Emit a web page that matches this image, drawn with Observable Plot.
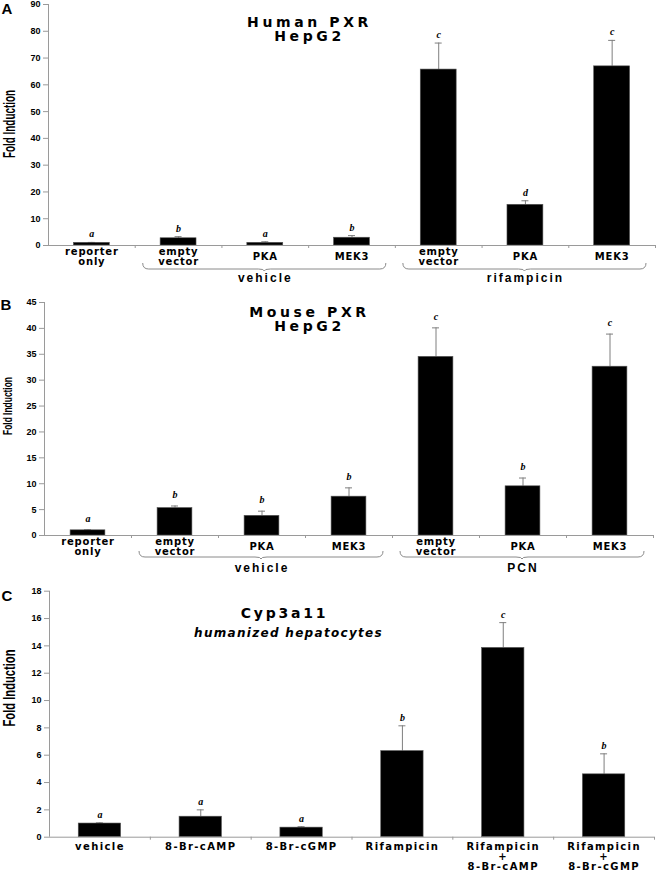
<!DOCTYPE html>
<html>
<head>
<meta charset="utf-8">
<script src="https://cdn.jsdelivr.net/npm/d3@7"></script>
<script src="https://cdn.jsdelivr.net/npm/@observablehq/plot@0.6"></script>
<style>
  html, body { margin: 0; padding: 0; background: #fff; }
  #chart { width: 656px; }
  #chart svg { display: block; }
</style>
</head>
<body>
<div id="chart"></div>
<script>
// ---------- Panel A: Human PXR, HepG2 ----------
const aLabels  = ["reporter\nonly", "empty\nvector", "PKA", "MEK3", "empty\nvector", "PKA", "MEK3"];
const aValues  = [1.0, 2.7, 1.0, 2.9, 65.7, 15.2, 66.9];
const aErrors  = [0.15, 0.6, 0.4, 0.8, 9.9, 1.5, 9.7];
const aLetters = ["a", "b", "a", "b", "c", "d", "c"];
const aTicks   = [0, 10, 20, 30, 40, 50, 60, 70, 80, 90];
const aGroupNames = ["vehicle", "rifampicin"];
const aGroupFirst = [1, 4];
const aGroupLast  = [3, 6];

// ---------- Panel B: Mouse PXR, HepG2 ----------
const bLabels  = ["reporter\nonly", "empty\nvector", "PKA", "MEK3", "empty\nvector", "PKA", "MEK3"];
const bValues  = [1.0, 5.3, 3.8, 7.5, 34.5, 9.5, 32.6];
const bErrors  = [0.1, 0.4, 0.9, 1.7, 5.6, 1.6, 6.3];
const bLetters = ["a", "b", "b", "b", "c", "b", "c"];
const bTicks   = [0, 5, 10, 15, 20, 25, 30, 35, 40, 45];
const bGroupNames = ["vehicle", "PCN"];
const bGroupFirst = [1, 4];
const bGroupLast  = [3, 6];

// ---------- Panel C: Cyp3a11, humanized hepatocytes ----------
const cLabels  = ["vehicle", "8-Br-cAMP", "8-Br-cGMP", "Rifampicin", "Rifampicin\n+\n8-Br-cAMP", "Rifampicin\n+\n8-Br-cGMP"];
const cValues  = [1.0, 1.5, 0.7, 6.3, 13.85, 4.6];
const cErrors  = [0.05, 0.5, 0.07, 1.85, 1.85, 1.5];
const cLetters = ["a", "a", "a", "b", "c", "b"];
const cTicks   = [0, 2, 4, 6, 8, 10, 12, 14, 16, 18];

const SANS = "'DejaVu Sans', Verdana, sans-serif";
const ARIAL = "'Liberation Sans', Arial, sans-serif";
const SERIF = "'Liberation Serif', 'Times New Roman', serif";
const AXIS_GRAY = "#9a9a9a";
const ERR_GRAY = "#7f7f7f";

function groupsOf(names, first, last) {
  return names.map((name, k) => ({name, first: first[k], last: last[k]}));
}

function braceMark(groups, top, depth) {
  return (index, scales, values, dimensions) => {
    const x = scales.x;
    const y0 = dimensions.height - dimensions.marginBottom + top;
    const y1 = y0 + depth;
    const g = d3.create("svg:g")
      .attr("fill", "none").attr("stroke", "#8a8a8a").attr("stroke-width", 1);
    for (const gr of groups) {
      const a = x(gr.first - 0.5) + 8, b = x(gr.last + 0.5) - 9, m = (a + b) / 2, r = 6;
      g.append("path").attr("d",
        `M${a},${y0} Q${a},${y1} ${a + r},${y1} L${m - r},${y1} Q${m},${y1} ${m},${y1 + 2} ` +
        `Q${m},${y1} ${m + r},${y1} L${b - r},${y1} Q${b},${y1} ${b},${y0}`);
    }
    return g.node();
  };
}

function yLabelMark(text, x, y, size, len, weight) {
  return () => d3.create("svg:text")
    .attr("transform", `translate(${x},${y}) rotate(-90)`)
    .attr("text-anchor", "middle")
    .attr("font-family", ARIAL)
    .attr("font-size", size)
    .attr("font-weight", weight)
    .attr("fill", "black")
    .attr("textLength", len)
    .attr("lengthAdjust", "spacingAndGlyphs")
    .text(text).node();
}

function makePanel(cfg) {
  const n = cfg.labels.length;
  const rows = cfg.labels.map((label, i) => ({
    i, label, value: cfg.values[i], err: cfg.errors[i],
    top: cfg.values[i] + cfg.errors[i], letter: cfg.letters[i]
  }));
  const band = (656 - cfg.marginLeft - cfg.marginRight) / n;
  const capHalf = 3.5 / band;
  const half = cfg.barHalf;
  const boundaries = d3.range(n).map(i => i + 0.5);
  const groups = cfg.groups || [];
  const marks = [
    Plot.ruleX([-0.5], {x: d => d, stroke: AXIS_GRAY}),
    Plot.axisY({ticks: cfg.ticks, tickSize: 5, tickPadding: 3, stroke: AXIS_GRAY, fill: "black",
      fontSize: 9, fontWeight: "bold", fontFamily: ARIAL, label: null}),
    Plot.axisX({ticks: boundaries, tickSize: 3, tickFormat: () => "", stroke: AXIS_GRAY, label: null}),
    Plot.ruleX(rows, {x: "i", y1: "value", y2: "top", stroke: ERR_GRAY, strokeWidth: 1}),
    Plot.ruleY(rows, {y: "top", x1: d => d.i - capHalf, x2: d => d.i + capHalf, stroke: ERR_GRAY, strokeWidth: 1}),
    Plot.rectY(rows, {x1: d => d.i - half, x2: d => d.i + half, y: "value", fill: "black", stroke: "#555", strokeWidth: 0.6}),
    Plot.ruleY([0], {stroke: AXIS_GRAY}),
    Plot.text(rows, {x: "i", y: "top", text: "letter", lineAnchor: "bottom", dy: cfg.letterDy,
      fontFamily: SERIF, fontStyle: "italic", fontWeight: "bold", fontSize: 10}),
    Plot.text(rows, {x: "i", text: "label", frameAnchor: "bottom", dy: cfg.labelDy, lineAnchor: cfg.labelAnchor,
      lineHeight: cfg.labelLH, fontFamily: SANS, fontWeight: "bold", fontSize: cfg.labelSize, ariaDescription: "catlabel"}),
    Plot.text(groups, {x: d => (d.first + d.last) / 2, text: "name", frameAnchor: "bottom", dy: cfg.groupDy,
      lineAnchor: "middle", fontFamily: ARIAL, fontWeight: "bold", fontSize: 12, ariaDescription: "grouplabel"}),
    braceMark(groups, cfg.braceTop, cfg.braceDepth),
    Plot.text([cfg.title], {text: d => d, frameAnchor: "top-left", dx: cfg.titleX - cfg.marginLeft, dy: cfg.titleDy,
      textAnchor: "middle", lineAnchor: "bottom", lineHeight: 0.95, fontFamily: SANS, fontWeight: "bold",
      fontSize: 14, ariaDescription: "title"}),
    Plot.text([cfg.panel], {text: d => d, frameAnchor: "top-left", dx: cfg.panelDx, dy: cfg.panelDy,
      textAnchor: "start", lineAnchor: "bottom", fontFamily: ARIAL, fontWeight: "bold", fontSize: 15}),
    yLabelMark("Fold Induction", cfg.yLabX, cfg.yLabY, cfg.yLabSize, cfg.yLabLen, cfg.yLabWeight)
  ];
  if (cfg.subtitle) {
    marks.push(Plot.text([cfg.subtitle], {text: d => d, frameAnchor: "top-left", dx: cfg.subX - cfg.marginLeft,
      dy: cfg.subDy, textAnchor: "middle", lineAnchor: "bottom", fontFamily: SANS, fontWeight: "bold",
      fontStyle: "italic", fontSize: 12, ariaDescription: "subtitle"}));
  }
  const svg = Plot.plot({
    width: 656,
    height: cfg.height,
    marginTop: cfg.marginTop,
    marginBottom: cfg.marginBottom,
    marginLeft: cfg.marginLeft,
    marginRight: cfg.marginRight,
    x: {domain: [-0.5, n - 0.5], axis: null},
    y: {domain: [0, cfg.ticks[cfg.ticks.length - 1]], axis: null},
    style: {background: "white", overflow: "visible", color: "black"},
    marks
  });
  const s = d3.select(svg);
  s.selectAll('[aria-description="catlabel"]').attr("letter-spacing", cfg.labelLS + "px");
  s.selectAll('[aria-description="grouplabel"]').attr("letter-spacing", "2px");
  s.selectAll('[aria-description="title"]').attr("letter-spacing", cfg.titleLS + "px");
  s.selectAll('[aria-description="subtitle"]').attr("letter-spacing", "1.3px");
  return svg;
}

const chart = document.getElementById("chart");

chart.appendChild(makePanel({
  labels: aLabels, values: aValues, errors: aErrors, letters: aLetters, ticks: aTicks,
  groups: groupsOf(aGroupNames, aGroupFirst, aGroupLast),
  height: 290, marginTop: 4, marginBottom: 45, marginLeft: 48, marginRight: 1,
  barHalf: 0.207, letterDy: -5,
  labelDy: 11, labelAnchor: "middle", labelLH: 1.0, labelSize: 10, labelLS: 0.8,
  groupDy: 33, braceTop: 18, braceDepth: 6,
  title: "Human PXR\nHepG2", titleX: 309, titleDy: 36, titleLS: 3.6,
  panel: "A", panelDx: -47, panelDy: 9,
  yLabX: 15, yLabY: 124, yLabSize: 16, yLabLen: 68, yLabWeight: "bold"
}));

chart.appendChild(makePanel({
  labels: bLabels, values: bValues, errors: bErrors, letters: bLetters, ticks: bTicks,
  groups: groupsOf(bGroupNames, bGroupFirst, bGroupLast),
  height: 285, marginTop: 12, marginBottom: 40, marginLeft: 44, marginRight: 3,
  barHalf: 0.2, letterDy: -8,
  labelDy: 11, labelAnchor: "middle", labelLH: 1.0, labelSize: 10, labelLS: 0.8,
  groupDy: 33, braceTop: 16, braceDepth: 6,
  title: "Mouse PXR\nHepG2", titleX: 309, titleDy: 28, titleLS: 3.6,
  panel: "B", panelDx: -44, panelDy: 7,
  yLabX: 12, yLabY: 116, yLabSize: 12, yLabLen: 58, yLabWeight: "bold"
}));

chart.appendChild(makePanel({
  labels: cLabels, values: cValues, errors: cErrors, letters: cLetters, ticks: cTicks,
  groups: [],
  height: 296, marginTop: 15.7, marginBottom: 34.3, marginLeft: 49, marginRight: 2,
  barHalf: 0.21, letterDy: -5,
  labelDy: 6, labelAnchor: "top", labelLH: 1.0, labelSize: 10, labelLS: 1.4,
  groupDy: 33, braceTop: 16, braceDepth: 6,
  title: "Cyp3a11", titleX: 284, titleDy: 26.3, titleLS: 2.8,
  subtitle: "humanized hepatocytes", subX: 288, subDy: 45.3,
  panel: "C", panelDx: -48, panelDy: 9.3,
  yLabX: 15, yLabY: 113, yLabSize: 16, yLabLen: 77, yLabWeight: "bold"
}));
</script>
</body>
</html>
